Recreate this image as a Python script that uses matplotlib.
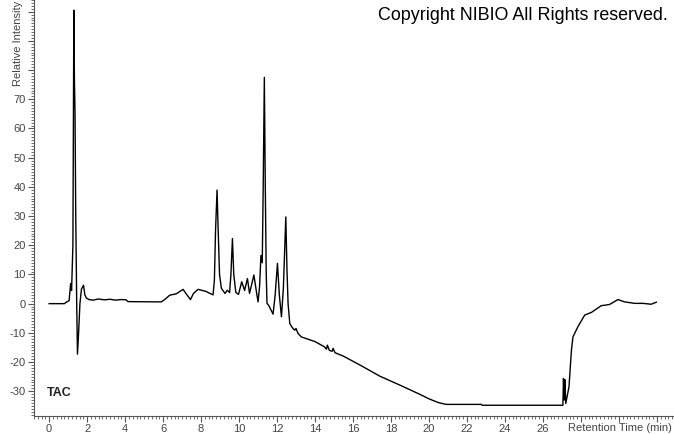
import numpy as np
import matplotlib.pyplot as plt
from matplotlib.ticker import MultipleLocator, FuncFormatter

# Chromatogram trace
time_min = [
    0.0, 0.80, 0.90, 1.05, 1.13, 1.18, 1.25, 1.30, 1.33, 1.36, 1.40, 1.45, 1.49,
    1.55, 1.62, 1.70, 1.81, 1.88, 1.96, 2.1, 2.3, 2.6, 2.9, 3.2, 3.5, 3.8, 4.05,
    4.15, 5.9, 6.1, 6.35, 6.7, 7.05, 7.2, 7.44, 7.6, 7.84, 8.25, 8.63, 8.70,
    8.76, 8.84, 8.90, 8.97, 9.07, 9.26, 9.38, 9.50, 9.57, 9.65, 9.72, 9.83,
    9.97, 10.14, 10.29, 10.44, 10.55, 10.78, 10.95, 11.0, 11.08, 11.15, 11.22,
    11.27, 11.33, 11.38, 11.43, 11.47, 11.55, 11.79, 11.9, 12.02, 12.12, 12.23,
    12.33, 12.46, 12.52, 12.58, 12.67, 12.8, 12.93, 13.0, 13.1, 13.28, 14.0,
    14.5, 14.6, 14.65, 14.75, 14.9, 14.95, 15.05, 15.5, 16.5, 17.4, 18.5, 19.5,
    20.0, 20.5, 20.9, 22.75, 22.8, 27.05, 27.08, 27.12, 27.15, 27.2, 27.37,
    27.5, 27.58, 27.84, 28.2, 28.55, 29.07, 29.5, 29.95, 30.3, 30.83, 31.26,
    31.7, 31.97,
]
intensity = [
    0.0, 0.0, 0.5, 1.0, 6.9, 4.5, 20.0, 100.5, 76.5, 66.0, 30.0, 0.0, -17.3,
    -10.0, 0.0, 5.0, 6.3, 3.0, 1.9, 1.4, 1.2, 1.6, 1.3, 1.5, 1.2, 1.4, 1.3,
    0.7, 0.6, 1.5, 2.9, 3.4, 4.9, 3.5, 1.4, 3.5, 4.9, 4.2, 3.0, 8.0,
    25.0, 38.9, 25.0, 10.0, 5.2, 3.5, 4.6, 3.8, 10.0, 22.3, 10.0, 3.8,
    3.2, 7.5, 4.5, 8.6, 3.5, 9.8, 2.5, 0.6, 6.0, 16.5, 14.0,
    40.0, 77.5, 40.0, 10.0, 0.1, -0.5, -3.6, 3.0, 13.8, 3.0, -4.5,
    5.0, 29.7, 12.0, 0.0, -6.8, -8.2, -9.1, -8.5, -10.2, -11.4, -13.0,
    -14.8, -15.6, -14.2, -16.0, -16.3, -15.3, -16.8, -18.0, -21.5, -24.8, -28.0, -31.0,
    -32.6, -33.9, -34.5, -34.5, -34.8, -34.8, -25.6, -33.0, -26.0, -34.2, -28.5,
    -15.9, -11.4, -7.9, -3.9, -3.0, -0.7, -0.3, 1.4, 0.6, 0.1, 0.1,
    -0.2, 0.5,
]

x_labels = list(range(0, 27, 2))     # labelled x ticks
y_labels = list(range(-30, 71, 10))  # labelled y ticks

plt.rcParams['font.family'] = ['Liberation Sans', 'DejaVu Sans']

fig = plt.figure(figsize=(6.74, 4.34), dpi=100)
ax = fig.add_axes([0.0504, 0.042, 0.9496, 0.958])

ax.plot(time_min, intensity, color='black', linewidth=1.0)

ax.set_xlim(-0.8, 32.9)
ax.set_ylim(-38.4, 104)

# only left and bottom spines
ax.spines['top'].set_visible(False)
ax.spines['right'].set_visible(False)
ax.spines['left'].set_color('#555555')
ax.spines['bottom'].set_color('#555555')

ax.xaxis.set_major_locator(MultipleLocator(2))
ax.xaxis.set_minor_locator(MultipleLocator(0.2))
ax.yaxis.set_major_locator(MultipleLocator(10))
ax.yaxis.set_minor_locator(MultipleLocator(1))

ax.xaxis.set_major_formatter(FuncFormatter(
    lambda v, p: f"{int(round(v))}" if int(round(v)) in x_labels else ""))
ax.yaxis.set_major_formatter(FuncFormatter(
    lambda v, p: f"{int(round(v))}" if int(round(v)) in y_labels else ""))

ax.tick_params(axis='both', which='major', length=4, width=0.8, color='#555555',
               labelsize=8, labelcolor='#444444', pad=2)
ax.tick_params(axis='both', which='minor', length=2, width=0.6, color='#555555')

# axis titles placed like the instrument export
fig.text(672 / 674, (434 - 428) / 434, 'Retention Time (min)', ha='right',
         va='center', fontsize=8, color='#444444')
fig.text(0.027, 0.999, 'Relative Intensity', rotation=90, ha='center', va='top',
         fontsize=8, color='#444444')

fig.text(668 / 674, 1 - 15 / 434, 'Copyright NIBIO All Rights reserved.',
         ha='right', va='center', fontsize=12.9, color='black')

ax.text(-0.12, -30.6, 'TAC', ha='left', va='center', fontsize=9,
        fontweight='bold', color='#222222')

fig.savefig('out.png', dpi=100)
